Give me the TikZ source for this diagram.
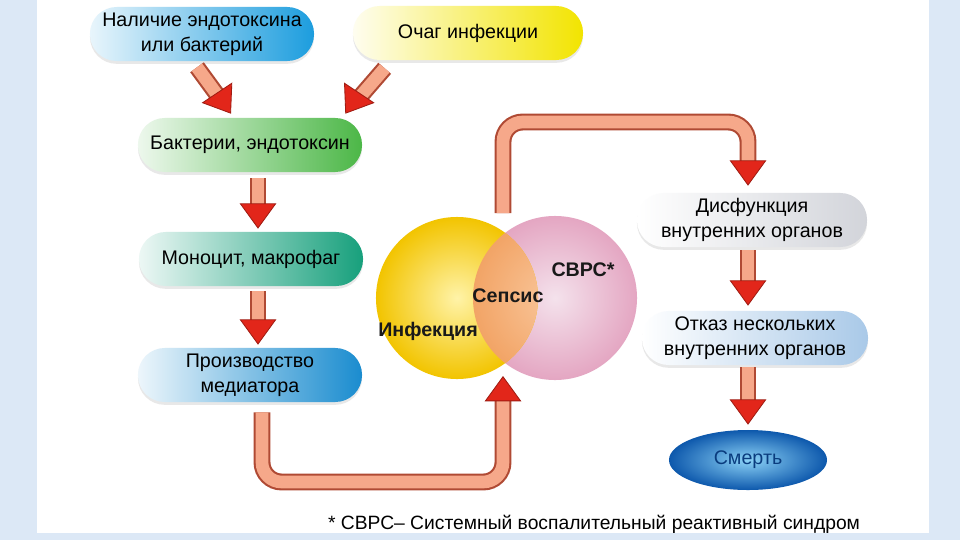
\documentclass[tikz,border=0pt]{standalone}
\usepackage{fontspec}
\setmainfont{Liberation Sans}
\usetikzlibrary{calc,arrows.meta,shadows,shapes.geometric}

\definecolor{framebg}{HTML}{DCE8F6}
\definecolor{pipeedge}{HTML}{B04A34}
\definecolor{pipefill}{HTML}{F6A88A}
\definecolor{headred}{HTML}{E2261A}
\definecolor{headedge}{HTML}{A01C12}
\definecolor{cyanblue}{HTML}{1C9DDE}
\definecolor{sunyellow}{HTML}{F2E400}
\definecolor{leafgreen}{HTML}{4CB747}
\definecolor{seateal}{HTML}{17A07C}
\definecolor{deepblue}{HTML}{1A8CCF}
\definecolor{softgray}{HTML}{D2D4DA}
\definecolor{paleblue}{HTML}{A9C9E8}
\definecolor{svrspale}{HTML}{F4E2EC}
\definecolor{svrsrim}{HTML}{E4A6C2}
\definecolor{infpale}{HTML}{FFF3A8}
\definecolor{infrim}{HTML}{F2C400}
\definecolor{sepspale}{HTML}{F9C79C}
\definecolor{sepsrim}{HTML}{F2A466}
\definecolor{smertpale}{HTML}{8CD2F6}
\definecolor{smertrim}{HTML}{0D58AC}
\definecolor{smerttext}{HTML}{0A3C7E}

\tikzset{
	pill/.style={rounded corners=19pt, minimum width=5.6cm, minimum height=1.35cm,
		align=center, text=black, font=\fontsize{14}{17.5}\selectfont,
		drop shadow={opacity=0.18, shadow xshift=0pt, shadow yshift=-2pt}},
	pipe/.style={double=pipefill, double distance=9pt, line width=1.5pt,
		draw=pipeedge, shorten >=16pt},
	tip/.style={draw=headedge, line width=0.6pt,
		-{Triangle[width=26pt, length=18pt, fill=headred]}},
	circlab/.style={font=\bfseries\fontsize{14}{16}\selectfont, text=black!90}
}

\begin{document}
\begin{tikzpicture}[x=0.025cm, y=-0.025cm]
	%%%%% FRAME %%%%%
	\useasboundingbox (0,0) rectangle (960,540);
	\fill[framebg] (0,0) rectangle (960,540);
	\fill[white] (37,0) rectangle (929,533);
	
	%%%%% LEFT COLUMN %%%%%
	\node[pill, left color=cyanblue!10, middle color=cyanblue!55, right color=cyanblue] (nal) at (202,34) {Наличие эндотоксина\\или бактерий};
	\node[pill, minimum width=5.75cm, left color=sunyellow!6, middle color=sunyellow!70, right color=sunyellow] (ochag) at (468,33) {Очаг инфекции};
	\node[pill, left color=leafgreen!10, middle color=leafgreen!70, right color=leafgreen] (bakt) at (250,145) {Бактерии, эндотоксин};
	\node[pill, left color=seateal!8, middle color=seateal!70, right color=seateal] (mono) at (251,259) {Моноцит, макрофаг};
	\node[pill, left color=deepblue!8, middle color=deepblue!60, right color=deepblue] (proiz) at (250,375) {Производство\\медиатора};
	
	%%%%% CIRCLES %%%%%
	\node[circle, minimum size=4.1cm, inner color=svrspale, outer color=svrsrim] (svrs) at (555,298) {};
	\node[circle, minimum size=4.05cm, inner color=infpale, outer color=infrim] (inf) at (457,298) {};
	\begin{scope}
		\clip (inf.center) circle (2.025cm);
		\shade[inner color=sepspale, outer color=sepsrim] (svrs.center) circle (2.05cm);
	\end{scope}
	\node[circlab] (inflab) at (428,331) {Инфекция};
	\node[circlab] (seplab) at (508,296) {Сепсис};
	\node[circlab] (svrslab) at (583,270) {СВРС*};
	\coordinate (notchT) at (503,233);
	\coordinate (notchB) at (503,363);
	
	%%%%% RIGHT COLUMN %%%%%
	\node[pill, minimum width=5.75cm, left color=white, right color=softgray] (disf) at (752,220) {Дисфункция\\внутренних органов};
	\node[pill, minimum width=5.65cm, left color=white, middle color=paleblue!55, right color=paleblue] (otkaz) at (755,338) {Отказ нескольких\\внутренних органов};
	\node[ellipse, minimum width=3.95cm, minimum height=1.5cm, inner color=smertpale, outer color=smertrim, text=smerttext, font=\fontsize{14}{16}\selectfont] (smert) at (748,460) {Смерть};
	
	%%%%% ARROWS %%%%%
	\draw[pipe] ($(nal.south)+(-5,6)$) -- ($(bakt.north)+(-19,-4)$);
	\draw[tip] ($(bakt.north)+(-21,-7)$) -- ($(bakt.north)+(-19,-4)$);
	\draw[pipe] ($(ochag.south west)+(32,8)$) -- ($(bakt.north east)+(-17,-4)$);
	\draw[tip] ($(bakt.north east)+(-15,-7)$) -- ($(bakt.north east)+(-17,-4)$);
	
	\draw[pipe] ($(bakt.south)+(8,6)$) -- ($(mono.north)+(7,-3)$);
	\draw[tip] ($(mono.north)+(7,-6)$) -- ($(mono.north)+(7,-3)$);
	\draw[pipe] ($(mono.south)+(7,5)$) -- ($(proiz.north)+(8,-3)$);
	\draw[tip] ($(proiz.north)+(8,-6)$) -- ($(proiz.north)+(8,-3)$);
	
	\draw[pipe, rounded corners=14pt] ($(proiz.south)+(12,10)$) |- (503,482) -- ($(notchB)+(0,13)$);
	\draw[tip] ($(notchB)+(0,16)$) -- ($(notchB)+(0,13)$);
	\draw[pipe, rounded corners=14pt] ($(notchT)+(0,-20)$) |- (748,122) -- ($(disf.north)+(-4,-7)$);
	\draw[tip] ($(disf.north)+(-4,-10)$) -- ($(disf.north)+(-4,-7)$);
	
	\draw[pipe] ($(disf.south)+(-4,3)$) -- ($(otkaz.north)+(-7,-5)$);
	\draw[tip] ($(otkaz.north)+(-7,-8)$) -- ($(otkaz.north)+(-7,-5)$);
	\draw[pipe] ($(otkaz.south)+(-7,2)$) -- ($(smert.north)+(0,-5)$);
	\draw[tip] ($(smert.north)+(0,-8)$) -- ($(smert.north)+(0,-5)$);
	
	%%%%% NOTE %%%%%
	\node[font=\fontsize{13.7}{16}\selectfont, text=black] (note) at (594,524) {* СВРС– Системный воспалительный реактивный синдром};
\end{tikzpicture}
\end{document}
